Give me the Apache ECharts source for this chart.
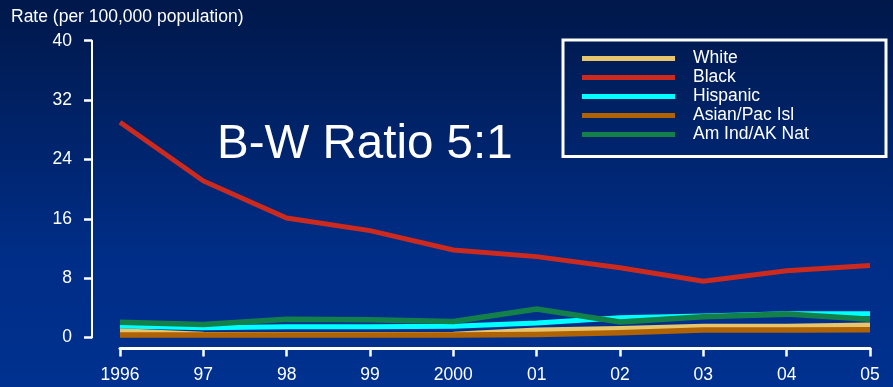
<!DOCTYPE html>
<html>
<head>
<meta charset="utf-8">
<script src="https://cdn.jsdelivr.net/npm/echarts@6/dist/echarts.min.js"></script>
<style>
  html, body { margin: 0; padding: 0; background: #001848; }
  #chart { width: 893px; height: 387px; }
</style>
</head>
<body>
<div id="chart"></div>
<script>
// Rates per 100,000 population by race/ethnicity, 1996-2005
var years = ['1996', '97', '98', '99', '2000', '01', '02', '03', '04', '05'];
var white    = [0.9, 0.45, 0.4, 0.4, 0.45, 1.0, 1.2, 1.5, 1.5, 1.7];
var black    = [29.0, 21.1, 16.1, 14.4, 11.8, 10.9, 9.4, 7.6, 9.0, 9.7];
var hispanic = [1.55, 1.3, 1.45, 1.45, 1.5, 1.95, 2.65, 2.9, 3.2, 3.2];
var asianPac = [0.35, 0.35, 0.35, 0.35, 0.35, 0.4, 0.65, 1.0, 1.0, 1.05];
var amIndAk  = [2.05, 1.75, 2.45, 2.4, 2.15, 3.85, 2.1, 2.8, 3.15, 2.45];
var yTicks   = { min: 0, max: 40, step: 8 };
var headline = 'B-W Ratio 5:1';
var yTitle   = 'Rate (per 100,000 population)';

var FONT = '"Liberation Sans", Arial, sans-serif';
var INK = '#ffffff';
var FS = 17.5;

function line(name, data, color, width) {
  return {
    name: name,
    type: 'line',
    data: data,
    xAxisIndex: 0,
    yAxisIndex: 0,
    symbol: 'none',
    lineStyle: { color: color, width: width, cap: 'butt', join: 'miter' },
    itemStyle: { color: color },
    emphasis: { disabled: true },
    animation: false
  };
}

var chart = echarts.init(document.getElementById('chart'), null, { renderer: 'canvas' });

chart.setOption({
  animation: false,
  backgroundColor: {
    type: 'linear', x: 0, y: 0, x2: 0, y2: 1,
    colorStops: [
      { offset: 0, color: '#00184a' },
      { offset: 0.65, color: '#002d86' },
      { offset: 1, color: '#003190' }
    ]
  },
  title: [
    {
      text: yTitle,
      left: 6, top: 3,
      textStyle: { color: INK, fontFamily: FONT, fontSize: FS, fontWeight: 'normal' }
    },
    {
      text: headline,
      left: 212, top: 115.5,
      textStyle: { color: INK, fontFamily: FONT, fontSize: 47.5, fontWeight: 'normal' }
    }
  ],
  legend: {
    orient: 'vertical',
    left: 563, top: 40,
    padding: [9.5, 0, 13, 19],
    itemGap: 1,
    itemWidth: 93,
    itemHeight: 5,
    icon: 'rect',
    borderColor: '#ffffff',
    borderWidth: 3,
    selectedMode: false,
    textStyle: {
      color: INK, fontFamily: FONT, fontSize: FS, lineHeight: 17,
      width: 193, padding: [0, 0, 0, 13]
    },
    data: ['White', 'Black', 'Hispanic', 'Asian/Pac Isl', 'Am Ind/AK Nat']
  },
  grid: { left: 120, right: 23, top: 40.7, bottom: 49.5, containLabel: false },
  xAxis: [
    {
      type: 'category',
      data: years,
      boundaryGap: false,
      position: 'bottom',
      offset: 10.5,
      axisLine: { show: false, onZero: false },
      axisTick: { show: true, length: 8.5, lineStyle: { color: INK, width: 2.5 } },
      axisLabel: { color: INK, fontFamily: FONT, fontSize: FS, margin: 18 },
      splitLine: { show: false }
    },
    {
      // frame line under the plot, running past the first and last years
      type: 'value',
      min: -0.336, max: 9.276,
      position: 'bottom',
      offset: 10.5,
      axisLine: { show: true, onZero: false, lineStyle: { color: INK, width: 3 } },
      axisTick: { show: false },
      axisLabel: { show: false },
      splitLine: { show: false }
    }
  ],
  yAxis: [
    {
      type: 'value',
      min: yTicks.min, max: yTicks.max, interval: yTicks.step,
      position: 'left',
      offset: 28,
      axisLine: { show: false, onZero: false },
      axisTick: { show: true, length: 8, lineStyle: { color: INK, width: 2.5 } },
      axisLabel: { color: INK, fontFamily: FONT, fontSize: FS, margin: 20 },
      splitLine: { show: false }
    },
    {
      // vertical frame line, slightly taller than the value range
      type: 'value',
      min: -1.41, max: 41.44,
      position: 'left',
      offset: 28,
      axisLine: { show: true, onZero: false, lineStyle: { color: INK, width: 2 } },
      axisTick: { show: false },
      axisLabel: { show: false },
      splitLine: { show: false }
    }
  ],
  series: [
    line('White', white, '#e6c56c', 5),
    line('Black', black, '#cc2a1f', 5),
    line('Hispanic', hispanic, '#00ffff', 5),
    line('Asian/Pac Isl', asianPac, '#b06305', 5.5),
    line('Am Ind/AK Nat', amIndAk, '#13804a', 5.5)
  ]
});
</script>
</body>
</html>
